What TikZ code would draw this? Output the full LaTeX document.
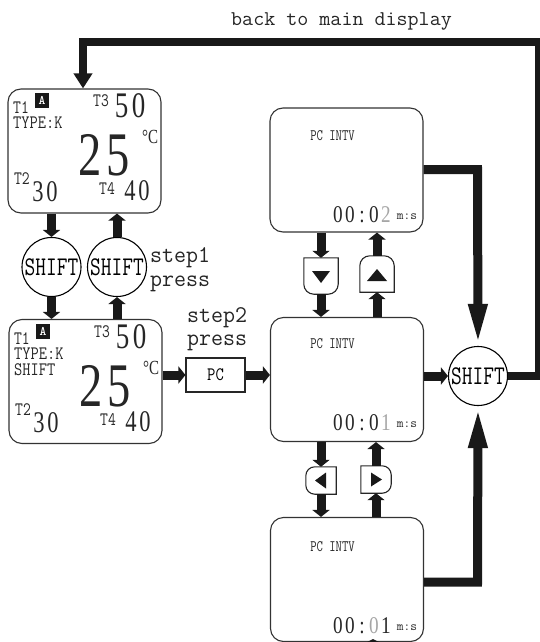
\documentclass[tikz,border=0pt]{standalone}
\usepackage{graphicx}
\usepackage{fontspec}
\newfontfamily\digfont{Liberation Serif}
\usetikzlibrary{arrows.meta}
\newcommand\Tx[3]{{\ttfamily\fontsize{#1pt}{#1pt}\selectfont\scalebox{#2}[1]{#3}}}
% two digits: size, x-scale, pitch, digit, digit
\newcommand\Dd[5]{{\digfont\fontsize{#1pt}{#1pt}\selectfont\makebox[#3pt]{\scalebox{#2}[1]{#4}}\makebox[#3pt]{\scalebox{#2}[1]{#5}}}}
% one cell of a timer
\newcommand\Tm[1]{\makebox[12pt]{\scalebox{.8}[1]{#1}}}
\newcommand\Tv[1]{{\digfont\fontsize{24pt}{24pt}\selectfont #1}}
\colorlet{dimdigit}{black!35}
\tikzset{
  x=1pt,y=-1pt,
  lbl/.style={inner sep=0pt,text=black!85},
  disp/.style={draw=black!80,line width=1.1pt,rounded corners=13pt,minimum width=153pt,minimum height=124pt,inner sep=0pt},
  ring/.style={circle,draw=black,line width=1.1pt,minimum size=59pt,inner sep=0pt},
  btn/.style={inner sep=0pt,minimum width=#1},
  btnline/.style={draw=black!85,line width=1.1pt},
  conn/.style={line width=9pt,draw=black!90,-{Triangle[width=17pt,length=7pt]}},
  bigconn/.style={line width=9pt,draw=black!90,line join=miter,-{Triangle[width=17pt,length=42pt]}},
  backconn/.style={line width=8pt,draw=black!90,line join=miter,-{Triangle[width=18pt,length=15pt]}}
}
\newcommand\MainDisp[4]{%
\begin{scope}[shift={(#1,#2)},name prefix=#3-]
  \node[fill=black!90,inner sep=0pt,minimum width=14pt,minimum height=15pt,text=white] (icon) at (42,100) {\Tx{13}{1}{\bfseries A}};
  \node[lbl] (t1) at (21,108) {\Tx{19}{.8}{T1}};
  \node[lbl,anchor=west] (type) at (13,123) {\Tx{19}{.84}{TYPE:K}};
  #4
  \node[lbl] (t3) at (101,101) {\Tx{19}{.8}{T3}};
  \node[lbl] (v50) at (130,106) {\Dd{36}{.75}{17}{5}{0}};
  \node[lbl] (deg) at (150,137) {{\digfont\fontsize{20pt}{20pt}\selectfont\scalebox{.75}[1]{°C}}};
  \node[lbl] (v25) at (104,155) {\Dd{62}{.75}{28}{2}{5}};
  \node[lbl] (t2) at (22,179) {\Tx{19}{.8}{T2}};
  \node[lbl] (v30) at (45,192) {\Dd{30}{.75}{14}{3}{0}};
  \node[lbl] (t4) at (107,189) {\Tx{19}{.8}{T4}};
  \node[lbl] (v40) at (137,191) {\Dd{30}{.75}{14}{4}{0}};
\end{scope}}
\newcommand\IntvDisp[4]{%
\begin{scope}[shift={(#1,#2)},name prefix=#3-]
  \node[lbl] (pc) at (332.5,26) {\Tx{16}{.77}{PC INTV}};
  \node[lbl] (val) at (362,105) {\Tv{#4}};
  \node[lbl] (ms) at (407,107) {\Tx{13}{1}{m:s}};
\end{scope}}
\begin{document}
\begin{tikzpicture}
\useasboundingbox (0,0) rectangle (539,642);
% displays
\node[disp] (d1) at (84.5,151) {};
\node[disp] (d2) at (85.5,381.5) {};
\node[disp] (top) at (346.5,170) {};
\node[disp] (mid) at (347,379.5) {};
\node[disp] (bot) at (347,579.5) {};
\MainDisp{0}{0}{a}{}
\MainDisp{1}{231}{b}{\node[lbl,anchor=west] (sh) at (13,139) {\Tx{19}{.84}{SHIFT}};}
\IntvDisp{0}{109.5}{p}{\Tm{0}\Tm{0}\Tm{:}\Tm{0}\Tm{\textcolor{dimdigit}{2}}}
\IntvDisp{0}{318}{q}{\Tm{0}\Tm{0}\Tm{:}\Tm{0}\Tm{\textcolor{dimdigit}{1}}}
\IntvDisp{0}{520.5}{r}{\Tm{0}\Tm{0}\Tm{:}\Tm{\textcolor{dimdigit}{0}}\Tm{1}}
% rings
\node[ring] (c1) at (51.5,267) {\Tx{27}{.77}{SHIFT}};
\node[ring] (c2) at (117,267) {\Tx{27}{.77}{SHIFT}};
\node[ring] (S) at (478,376) {\Tx{27}{.77}{SHIFT}};
% PC box
\node[draw=black!85,line width=1.1pt,minimum width=59pt,minimum height=34pt,inner sep=0pt] (pc) at (215.5,375) {\Tx{19}{.85}{PC}};
% labels
\node[lbl] (back) at (341.5,21) {\Tx{21}{1.02}{back to main display}};
\node[lbl,anchor=west] (st1) at (150,258) {\Tx{24}{.97}{step1}};
\node[lbl,anchor=west] (pr1) at (150,284) {\Tx{24}{.97}{press}};
\node[lbl,anchor=west] (st2) at (187,318) {\Tx{24}{.97}{step2}};
\node[lbl,anchor=west] (pr2) at (187,343) {\Tx{24}{.97}{press}};
% buttons
\node[btn=34pt,minimum height=36pt] (bd) at (321,276) {};
\node[btn=34pt,minimum height=36pt] (bu) at (377,274) {};
\node[btn=30pt,minimum height=27pt] (bl) at (321,480.5) {};
\node[btn=30pt,minimum height=27pt] (br) at (376,479.5) {};
\draw[btnline] (bd.north west) -- (bd.north east) [rounded corners=10pt] -- (bd.south east) -- (bd.south west) [sharp corners] -- cycle;
\draw[btnline] (bu.south west) -- (bu.south east) [rounded corners=10pt] -- (bu.north east) -- (bu.north west) [sharp corners] -- cycle;
\draw[btnline] (bl.north east) -- (bl.south east) [rounded corners=9pt] -- (bl.south west) -- (bl.north west) [sharp corners] -- cycle;
\draw[btnline] (br.north west) -- (br.south west) [rounded corners=9pt] -- (br.south east) -- (br.north east) [sharp corners] -- cycle;
\fill[black!90] ([shift={(-9,-5)}]bd.center) -- ([shift={(9,-5)}]bd.center) -- ([shift={(0,7)}]bd.center) -- cycle;
\fill[black!90] ([shift={(-10,7)}]bu.center) -- ([shift={(10,7)}]bu.center) -- ([shift={(0,-5)}]bu.center) -- cycle;
\fill[black!90] ([shift={(5,-8)}]bl.center) -- ([shift={(5,8)}]bl.center) -- ([shift={(-6,0)}]bl.center) -- cycle;
\fill[black!90] ([shift={(-5,-7)}]br.center) -- ([shift={(-5,7)}]br.center) -- ([shift={(6,0)}]br.center) -- cycle;
% tiny nub on the lower edge of the bottom display
\fill[black!90] ([shift={(26,-3)}]bot.south) -- ([shift={(20,0)}]bot.south) -- ([shift={(32,0)}]bot.south) -- cycle;
% routing corners
\coordinate (topc) at (477.5,169.5);
\coordinate (botc) at (477.5,582);
\coordinate (rc1) at (539,376);
\coordinate (rc2) at (539,42.5);
\coordinate (lc) at (83,42.5);
% connectors
\draw[conn] (c1 |- d1.south) -- (c1.north);
\draw[conn] (c2.north) -- (c2 |- d1.south);
\draw[conn] (c1.south) -- (c1 |- d2.north);
\draw[conn] (c2 |- d2.north) -- (c2.south);
\draw[conn] (d2.east |- pc) -- (pc.west);
\draw[conn] (pc.east) -- (mid.west |- pc);
\draw[conn] (mid.east |- S) -- (S.west);
\draw[conn] (bd |- top.south) -- (bd.north);
\draw[conn] (bd.south) -- (bd |- mid.north);
\draw[conn] (bu.north) -- (bu |- top.south);
\draw[conn] (bu |- mid.north) -- (bu.south);
\draw[conn] (bl |- mid.south) -- (bl.north);
\draw[conn] (bl.south) -- (bl |- bot.north);
\draw[conn] (br.north) -- (br |- mid.south);
\draw[conn] (br |- bot.north) -- (br.south);
\draw[bigconn] (top.east |- topc) -- (topc) -- (S.north);
\draw[bigconn] (bot.east |- botc) -- (botc) -- (S.south);
\draw[backconn] (S.east) -- (rc1) -- (rc2) -- (lc) -- (d1.north -| lc);
\end{tikzpicture}
\end{document}
